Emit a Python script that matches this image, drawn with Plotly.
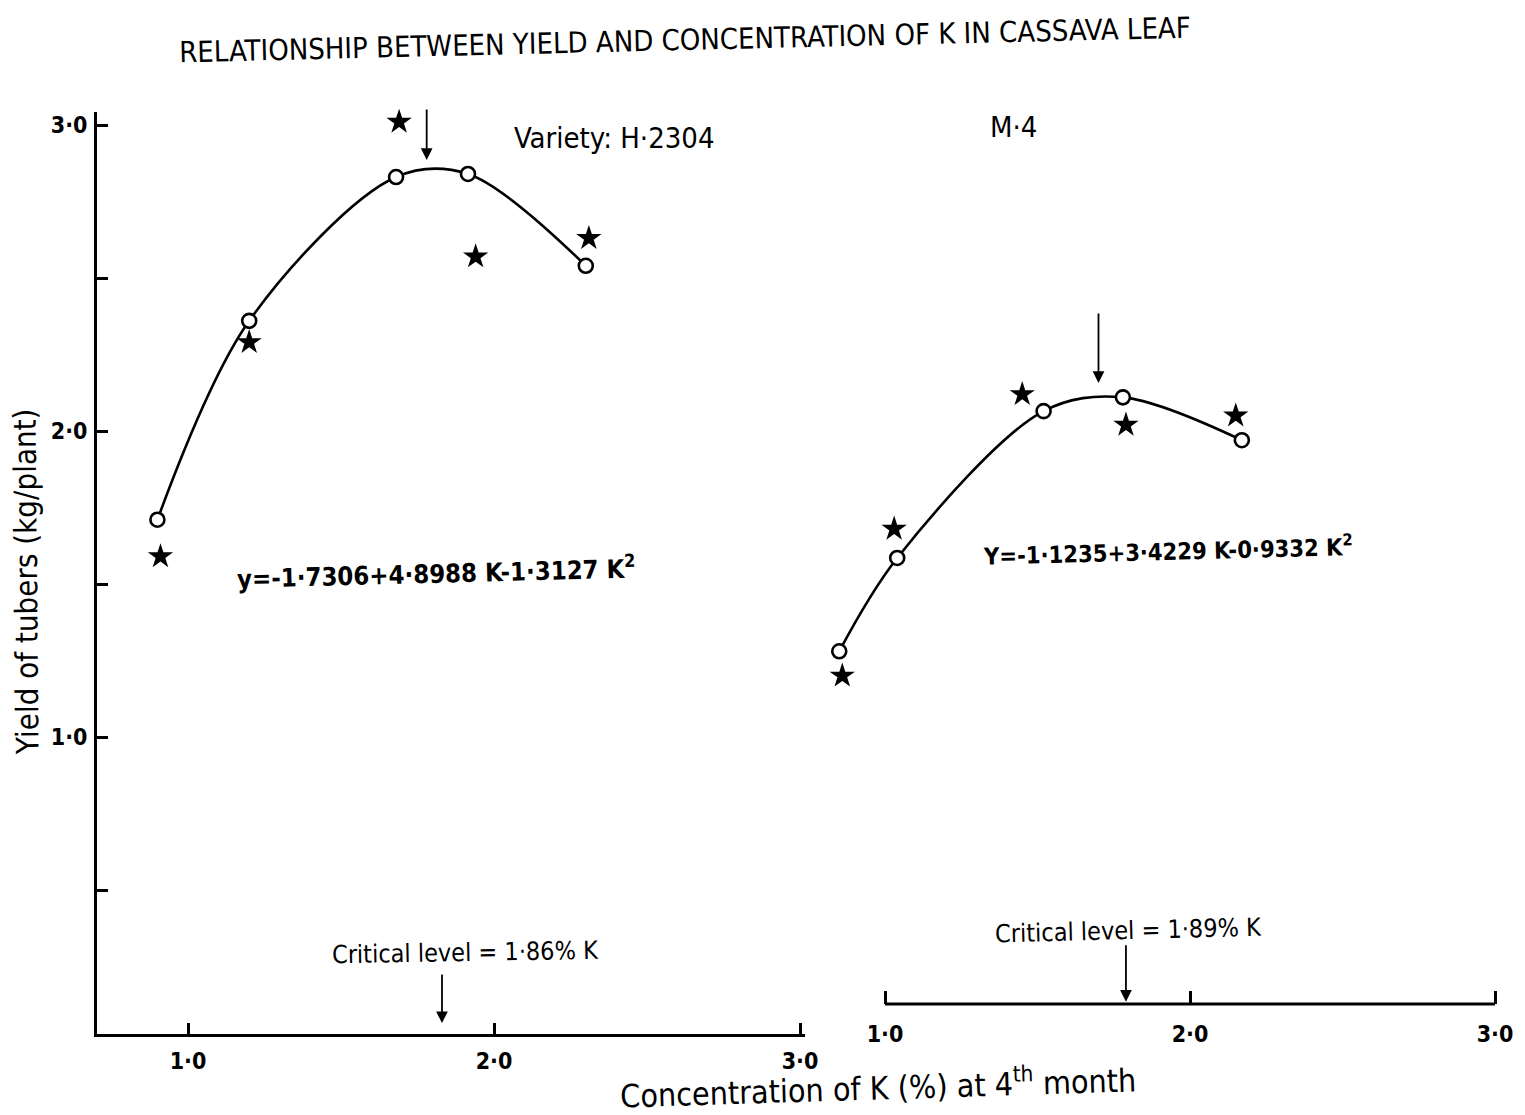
import plotly.graph_objects as go

# ---------------- data ----------------
# Variety H-2304 (left panel)
h_circ_x = [0.90, 1.20, 1.68, 1.915, 2.30]
h_circ_y = [1.71, 2.36, 2.83, 2.84, 2.54]
h_star_x = [0.91, 1.20, 1.69, 1.94, 2.31]
h_star_y = [1.59, 2.29, 3.01, 2.57, 2.63]

# Variety M-4 (right panel)
m_circ_x = [0.85, 1.04, 1.52, 1.78, 2.17]
m_circ_y = [1.28, 1.585, 2.065, 2.11, 1.97]
m_star_x = [0.86, 1.03, 1.45, 1.79, 2.15]
m_star_y = [1.20, 1.68, 2.12, 2.02, 2.05]

x_tickvals = [1, 2, 3]
x_ticktext = ["1·0", "2·0", "3·0"]
y_tickvals = [0.5, 1.0, 1.5, 2.0, 2.5, 3.0]
y_ticktext = ["", "1·0", "", "2·0", "", "3·0"]

h_peak = 1.78      # arrow over H-2304 curve
m_peak = 1.70      # arrow over M-4 curve
h_crit = 1.83      # critical-level arrow left
m_crit = 1.79      # critical-level arrow right

FONT = "DejaVu Sans Condensed"
W, H = 1525, 1115
L, R, T, B = 97, 28, 112, 81
PW, PH = W - L - R, H - T - B


def px(xp):
    return (xp - L) / PW


def py(yp):
    return (H - B - yp) / PH


fig = go.Figure()

# left panel
fig.add_trace(go.Scatter(x=h_circ_x, y=h_circ_y, mode="lines+markers",
                         line=dict(color="black", width=2.6, shape="spline", smoothing=0.95),
                         marker=dict(symbol="circle", size=14, color="white",
                                     line=dict(color="black", width=2.6)),
                         xaxis="x", yaxis="y", showlegend=False, cliponaxis=False))
fig.add_trace(go.Scatter(x=h_star_x, y=h_star_y, mode="markers",
                         marker=dict(symbol="star", size=19, color="black"),
                         xaxis="x", yaxis="y", showlegend=False, cliponaxis=False))
# right panel
fig.add_trace(go.Scatter(x=m_circ_x, y=m_circ_y, mode="lines+markers",
                         line=dict(color="black", width=2.6, shape="spline", smoothing=0.95),
                         marker=dict(symbol="circle", size=14, color="white",
                                     line=dict(color="black", width=2.6)),
                         xaxis="x2", yaxis="y", showlegend=False, cliponaxis=False))
fig.add_trace(go.Scatter(x=m_star_x, y=m_star_y, mode="markers",
                         marker=dict(symbol="star", size=19, color="black"),
                         xaxis="x2", yaxis="y", showlegend=False, cliponaxis=False))

tickfont = dict(family=FONT, size=23, color="black", weight="bold")

x1_left = 1 - (188 - L) / 306
x1_right = 1 + (805 - 188) / 306
x2_left = 1 - (885 - 820) / 305
x2_right = 1 + (W - R - 885) / 305
y_bottom = 3 - (H - B - 125) / 306
y_top = 3 + (125 - T) / 306

fig.update_layout(
    width=W, height=H,
    margin=dict(l=L, r=R, t=T, b=B),
    paper_bgcolor="white", plot_bgcolor="white",
    font=dict(family=FONT, color="black"),
    xaxis=dict(domain=[0, px(805)], range=[x1_left, x1_right],
               tickvals=x_tickvals, ticktext=x_ticktext, tickfont=tickfont,
               ticks="inside", ticklen=11, tickwidth=2.5, tickcolor="black",
               showline=True, linewidth=2.8, linecolor="black",
               showgrid=False, zeroline=False, anchor="y", ticklabelstandoff=4),
    xaxis2=dict(domain=[px(820), 1], range=[x2_left, x2_right],
                tickvals=x_tickvals, ticktext=x_ticktext, tickfont=tickfont,
                ticks="inside", ticklen=13, tickwidth=2.5, tickcolor="black",
                showline=False, showgrid=False, zeroline=False,
                anchor="free", position=py(1004), ticklabelstandoff=14),
    yaxis=dict(domain=[0, 1], range=[y_bottom, y_top],
               tickvals=y_tickvals, ticktext=y_ticktext, tickfont=tickfont,
               ticks="inside", ticklen=11, tickwidth=2.5, tickcolor="black",
               showline=True, linewidth=2.8, linecolor="black",
               showgrid=False, zeroline=False, ticklabelstandoff=2),
)

# right x-axis baseline (runs from 1.0 to 3.0 only)
fig.add_shape(type="line", xref="x2", yref="paper", x0=1.0, x1=3.0,
              y0=py(1004), y1=py(1004), line=dict(color="black", width=2.8))

annos = []


def text(xp, yp, s, size, angle=0.0, weight="normal"):
    annos.append(dict(x=px(xp), y=py(yp), xref="paper", yref="paper", text=s,
                      showarrow=False, textangle=angle, xanchor="center", yanchor="middle",
                      font=dict(family=FONT, size=size, color="black", weight=weight)))


text(685, 40, "RELATIONSHIP BETWEEN YIELD AND CONCENTRATION OF K IN CASSAVA LEAF", 29, -1.4)
text(614, 138, "Variety: H·2304", 29, 0)
text(1013, 127, "M·4", 29, 0)
text(436, 572, "y=-1·7306+4·8988 K-1·3127 K<sup>2</sup>", 25.5, -1.5, "bold")
text(1168, 550, "Y=-1·1235+3·4229 K-0·9332 K<sup>2</sup>", 23.5, -1.5, "bold")
text(465, 952, "Critical level = 1·86% K", 25, -1.0)
text(1128, 930, "Critical level = 1·89% K", 25, -1.5)
text(878, 1086, "Concentration of K (%) at 4<sup>th</sup> month", 32, -1.8)
text(26, 582, "Yield of tubers (kg/plant)", 31, -90.5)


def arrow(xv, yv, xa, ay):
    annos.append(dict(x=xv, y=yv, xref=xa, yref="y", ax=0, ay=ay, text="",
                      showarrow=True, arrowhead=2, arrowsize=1.3, arrowwidth=1.8,
                      arrowcolor="black"))


arrow(h_peak, 2.886, "x", -52)
arrow(m_peak, 2.157, "x2", -71)
arrow(h_crit, 0.065, "x", -50)
arrow(m_crit, 0.135, "x2", -58)

fig.update_layout(annotations=annos)

fig.write_html("out.html")
